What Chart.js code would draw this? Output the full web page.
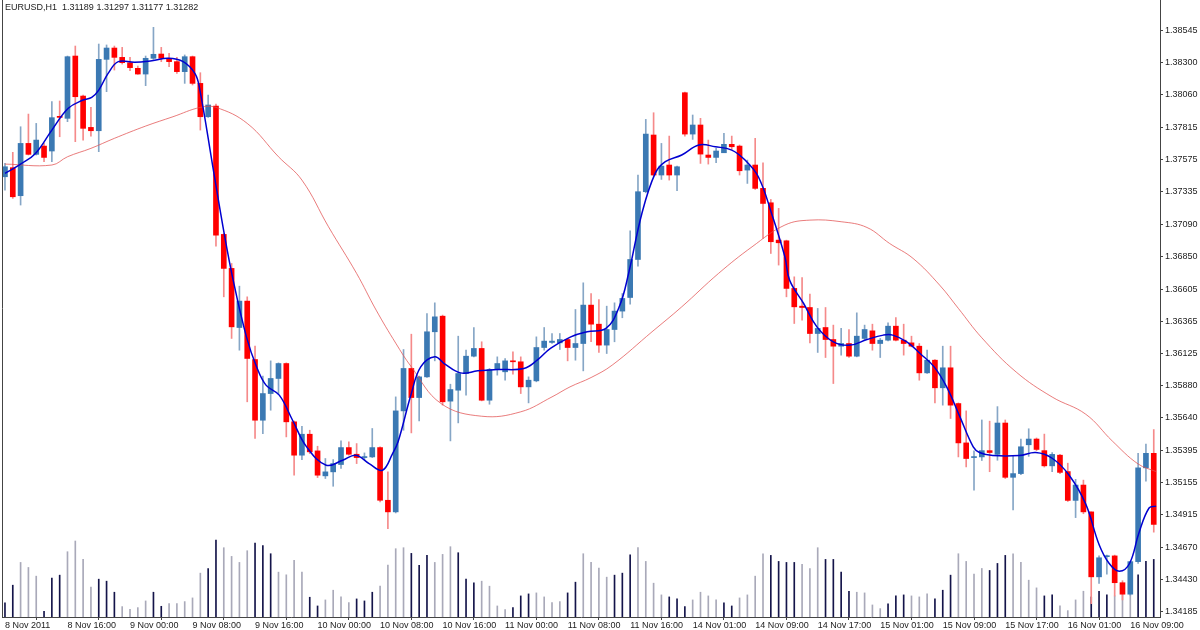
<!DOCTYPE html>
<html>
<head>
<meta charset="utf-8">
<script src="https://cdn.jsdelivr.net/npm/chart.js@4/dist/chart.umd.min.js"></script>
<style>
  html, body { margin: 0; padding: 0; background: #fff; }
  #wrap { width: 1200px; height: 630px; }
</style>
</head>
<body>
<div id="wrap"><canvas id="myChart" width="1200" height="630"></canvas></div>
<script>
// EURUSD H1, 148 bars from 8 Nov 2011 08:00
var timeLabels = ["8 Nov 2011","8 Nov 16:00","9 Nov 00:00","9 Nov 08:00","9 Nov 16:00","10 Nov 00:00","10 Nov 08:00","10 Nov 16:00","11 Nov 00:00","11 Nov 08:00","11 Nov 16:00","14 Nov 01:00","14 Nov 09:00","14 Nov 17:00","15 Nov 01:00","15 Nov 09:00","15 Nov 17:00","16 Nov 01:00","16 Nov 09:00"];

var priceTicks = [1.38790,1.38545,1.38300,1.38060,1.37815,1.37575,1.37335,1.37090,1.36850,1.36605,1.36365,1.36125,1.35880,1.35640,1.35395,1.35155,1.34915,1.34670,1.34430,1.34185];

var opens = [
1.37447,1.37515,1.37305,1.37697,1.37615,1.37677,1.37640,1.37900,1.37885,1.38352,
1.38052,1.37817,1.37792,1.38327,1.38412,1.38342,1.38302,1.38260,1.38217,1.38335,
1.38367,1.38335,1.38310,1.38235,1.38347,1.38147,1.37897,1.37977,1.37015,1.36760,
1.36317,1.36515,1.36077,1.35622,1.35822,1.35935,1.36047,1.35610,1.35360,1.35517,
1.35392,1.35205,1.35235,1.35290,1.35417,1.35367,1.35342,1.35347,1.35417,1.35022,
1.34935,1.35692,1.36010,1.35792,1.35947,1.36285,1.36402,1.35765,1.35847,1.35972,
1.36102,1.36160,1.35772,1.36002,1.35985,1.36067,1.36060,1.35872,1.35917,1.36167,
1.36205,1.36202,1.36227,1.36167,1.36197,1.36485,1.36342,1.36185,1.36302,1.36440,
1.36542,1.36827,1.37335,1.37760,1.37460,1.37535,1.37460,1.38077,1.37767,1.37835,
1.37610,1.37592,1.37627,1.37690,1.37677,1.37497,1.37535,1.37360,1.37252,1.36972,
1.36967,1.36610,1.36477,1.36467,1.36272,1.36317,1.36227,1.36177,1.36197,1.36102,
1.36235,1.36292,1.36197,1.36222,1.36327,1.36222,1.36202,1.36177,1.35977,1.36072,
1.35865,1.36015,1.35747,1.35452,1.35342,1.35347,1.35394,1.35366,1.35601,1.35194,
1.35222,1.35438,1.35481,1.35394,1.35280,1.35360,1.35237,1.35021,1.35136,1.34935,
1.34448,1.34599,1.34605,1.34404,1.34318,1.34562,1.35265,1.35374];

var highs = [
1.37547,1.37630,1.37822,1.37917,1.37847,1.37697,1.38010,1.38015,1.38352,1.38427,
1.38060,1.37967,1.38442,1.38435,1.38427,1.38417,1.38342,1.38277,1.38352,1.38567,
1.38417,1.38372,1.38342,1.38360,1.38352,1.38227,1.38060,1.37992,1.37022,1.36797,
1.36627,1.36547,1.36177,1.35952,1.36067,1.36052,1.36052,1.35615,1.35577,1.35547,
1.35427,1.35335,1.35327,1.35467,1.35460,1.35447,1.35377,1.35560,1.35422,1.35235,
1.35797,1.36152,1.36267,1.35952,1.36422,1.36502,1.36410,1.35892,1.36252,1.36147,
1.36317,1.36210,1.36010,1.36097,1.36085,1.36135,1.36097,1.35947,1.36247,1.36317,
1.36272,1.36272,1.36235,1.36452,1.36652,1.36572,1.36527,1.36477,1.36502,1.36572,
1.37042,1.37460,1.37877,1.37927,1.37697,1.37752,1.37527,1.38082,1.37910,1.37885,
1.37722,1.37660,1.37772,1.37752,1.37685,1.37572,1.37735,1.37552,1.37277,1.37210,
1.36972,1.36697,1.36692,1.36567,1.36460,1.36467,1.36335,1.36310,1.36302,1.36427,
1.36335,1.36342,1.36235,1.36352,1.36392,1.36342,1.36252,1.36197,1.36147,1.36077,
1.36177,1.36177,1.35752,1.35692,1.35392,1.35624,1.35615,1.35724,1.35624,1.35351,
1.35481,1.35558,1.35489,1.35518,1.35380,1.35366,1.35300,1.35179,1.35173,1.34935,
1.34605,1.34611,1.34611,1.34419,1.34565,1.35374,1.35443,1.35552];

var lows = [
1.37347,1.37285,1.37235,1.37610,1.37610,1.37560,1.37560,1.37747,1.37860,1.37710,
1.37722,1.37752,1.37635,1.38085,1.38247,1.38292,1.38242,1.38215,1.38130,1.38327,
1.38310,1.38272,1.38222,1.38147,1.38135,1.37797,1.37892,1.36927,1.36547,1.36235,
1.36147,1.35760,1.35485,1.35522,1.35697,1.35822,1.35497,1.35210,1.35327,1.35372,
1.35192,1.35185,1.35127,1.35260,1.35360,1.35297,1.35327,1.35342,1.35010,1.34810,
1.34927,1.35547,1.35527,1.35617,1.35942,1.36067,1.35735,1.35467,1.35602,1.35810,
1.36097,1.35767,1.35742,1.35960,1.35922,1.35967,1.35822,1.35752,1.35910,1.36147,
1.36197,1.36152,1.36067,1.36072,1.35992,1.36210,1.36130,1.36122,1.36210,1.36390,
1.36492,1.36777,1.37327,1.37452,1.37427,1.37422,1.37342,1.37752,1.37727,1.37547,
1.37542,1.37552,1.37627,1.37652,1.37460,1.37397,1.37352,1.36985,1.36872,1.36785,
1.36547,1.36347,1.36372,1.36202,1.36130,1.36092,1.35897,1.36110,1.36092,1.36097,
1.36227,1.36147,1.36092,1.36217,1.36217,1.36110,1.36172,1.35922,1.35972,1.35752,
1.35735,1.35635,1.35347,1.35272,1.35097,1.35320,1.35236,1.35322,1.35185,1.34950,
1.35214,1.35351,1.35394,1.35271,1.35236,1.35222,1.35013,1.34892,1.34921,1.34247,
1.34399,1.34468,1.34304,1.34275,1.34310,1.34548,1.35165,1.34783];

var closes = [
1.37522,1.37297,1.37697,1.37615,1.37722,1.37592,1.37890,1.37892,1.38347,1.38047,
1.37810,1.37792,1.38327,1.38412,1.38342,1.38302,1.38265,1.38217,1.38335,1.38365,
1.38335,1.38310,1.38235,1.38347,1.38147,1.37897,1.37985,1.37010,1.36760,1.36322,
1.36515,1.36085,1.35622,1.35822,1.35935,1.36047,1.35610,1.35360,1.35517,1.35385,
1.35210,1.35235,1.35297,1.35417,1.35367,1.35342,1.35347,1.35417,1.35022,1.34935,
1.35692,1.36010,1.35792,1.35947,1.36285,1.36397,1.35760,1.35852,1.35972,1.36102,
1.36160,1.35772,1.36002,1.36047,1.36067,1.36060,1.35872,1.35922,1.36167,1.36215,
1.36215,1.36227,1.36167,1.36197,1.36485,1.36342,1.36185,1.36302,1.36440,1.36535,
1.36827,1.37335,1.37767,1.37460,1.37527,1.37460,1.37522,1.37767,1.37835,1.37617,
1.37592,1.37640,1.37690,1.37672,1.37492,1.37535,1.37360,1.37247,1.36960,1.36952,
1.36610,1.36472,1.36467,1.36272,1.36310,1.36227,1.36177,1.36197,1.36102,1.36252,
1.36302,1.36197,1.36222,1.36327,1.36222,1.36197,1.36177,1.35977,1.36072,1.35865,
1.36015,1.35735,1.35452,1.35335,1.35347,1.35394,1.35380,1.35601,1.35194,1.35222,
1.35423,1.35481,1.35403,1.35280,1.35366,1.35231,1.35021,1.35136,1.34935,1.34448,
1.34591,1.34605,1.34404,1.34318,1.34562,1.35265,1.35374,1.34841];

var volumes = [
42,95,163,148,122,17,116,125,195,227,
172,89,113,107,74,31,23,28,48,74,
32,40,40,46,57,131,145,230,207,181,
163,198,221,213,189,134,126,169,134,59,
33,51,80,60,43,54,48,74,92,155,
204,207,190,154,184,163,187,210,192,113,
102,107,92,33,22,28,63,69,72,60,
43,46,72,104,189,163,146,119,125,131,
186,207,166,101,66,60,54,31,51,74,
63,51,42,33,57,66,122,189,184,166,
163,163,157,145,207,172,172,134,77,74,
72,36,25,39,63,66,63,60,69,54,
80,125,189,166,128,145,139,160,184,189,
163,110,87,63,66,33,19,51,77,60,
77,66,63,72,138,126,166,172];

// D = dark volume bar, G = grey volume bar
var volClass = "DDGGGDDDGGGGDDDGGGGDDGGGGGDDGGGGDDDGGGGDDGGGGDDDGGGGDDDGGGDDDGGGGDDDGGGGDDGGGGDDDGGGGDDDGGGGDDGGGGDDDDGGGDDDDGGGGDDDGGGDDDGGGGDDDGGGGDDGGGGDDDGGGDDD";

var fastX = [0,2,3.9,6,8.1,10,11.1,12,13.2,14.5,16.6,18.8,20.9,22.8,24.3,24.9,26.6,27.9,29.2,30.9,32.2,33.4,35.1,36.8,38.6,41.1,43.2,44.9,46.6,48.3,49.6,50.3,52,53.2,55,56.2,58.3,60.5,63,66.4,68.1,69.8,72.4,74.5,76.9,78.6,79.8,81.5,83.2,84.5,86.6,88.8,90.9,93,94.7,96.4,98.1,99.8,100.4,102.2,103.9,106,108.2,110.3,112.4,113.6,115.4,117.1,118.9,120.5,122.2,123.9,124.7,126.4,129.8,131.9,134,136.2,138.3,140,141.3,142.6,143.9,145.1,146.4,147.3];
var fastY = [1.37472,1.37542,1.37622,1.37797,1.37960,1.38022,1.38042,1.38097,1.38222,1.38310,1.38305,1.38317,1.38335,1.38310,1.38222,1.38110,1.37522,1.37072,1.36672,1.36247,1.36022,1.35885,1.35810,1.35622,1.35422,1.35285,1.35322,1.35360,1.35297,1.35247,1.35372,1.35460,1.35822,1.36022,1.36097,1.36047,1.35977,1.35992,1.36002,1.36010,1.36072,1.36160,1.36247,1.36285,1.36310,1.36472,1.36722,1.37172,1.37472,1.37560,1.37610,1.37685,1.37672,1.37647,1.37572,1.37447,1.37172,1.36847,1.36672,1.36497,1.36322,1.36210,1.36185,1.36227,1.36260,1.36260,1.36210,1.36122,1.36022,1.35872,1.35647,1.35422,1.35380,1.35357,1.35357,1.35380,1.35337,1.35208,1.34993,1.34691,1.34548,1.34490,1.34548,1.34777,1.34964,1.34978];

var slowX = [0,6,8,11,14,18,21.5,25,27,31,35,38,41.4,45,47.5,50,52,55.8,61,66,70,72.3,75,77.7,82.8,86.6,91.3,95.6,99.8,103,107,110.3,113.2,116.2,119.6,122,125,129.4,134,138.3,141.7,145,147.3];
var slowY = [1.37542,1.37535,1.37597,1.37660,1.37735,1.37827,1.37897,1.37967,1.37967,1.37847,1.37597,1.37422,1.37072,1.36722,1.36447,1.36200,1.36022,1.35747,1.35652,1.35685,1.35797,1.35872,1.35942,1.36035,1.36285,1.36472,1.36722,1.36922,1.37085,1.37122,1.37110,1.37067,1.36947,1.36835,1.36635,1.36460,1.36240,1.35983,1.35796,1.35667,1.35466,1.35294,1.35237];

var BLUE = '#3b79b3';
var RED = '#ff0000';
var axisFont = { family: 'Liberation Sans', size: 9 };

function isUp(i) { return closes[i] >= opens[i]; }

var frame = {
  id: 'frame',
  afterDraw(chart) {
    const c = chart.ctx, a = chart.chartArea;
    c.save();
    c.strokeStyle = '#444';
    c.lineWidth = 1;
    c.beginPath();
    c.moveTo(a.left + 0.5, 0);
    c.lineTo(a.left + 0.5, a.bottom);
    c.stroke();
    c.fillStyle = '#222';
    c.font = '9px "Liberation Sans"';
    c.textBaseline = 'top';
    c.fillText('EURUSD,H1  1.31189 1.31297 1.31177 1.31282', a.left + 3, 3);
    c.restore();
  }
};

const ctx = document.getElementById('myChart');

new Chart(ctx, {
  type: 'bar',
  data: {
    datasets: [
      {
        label: 'volume',
        yAxisID: 'yv',
        data: volumes.map((v, i) => ({ x: i, y: v })),
        backgroundColor: volumes.map((v, i) => volClass[i] === 'D' ? '#14144a' : '#a9a9b9'),
        barThickness: 1,
        grouped: false,
        order: 5
      },
      {
        label: 'wick',
        yAxisID: 'y',
        data: highs.map((h, i) => ({ x: i, y: [lows[i], h] })),
        backgroundColor: c => isUp(c.dataIndex) ? '#86a6c6' : '#f58a8a',
        barThickness: 1,
        grouped: false,
        order: 4
      },
      {
        label: 'body',
        yAxisID: 'y',
        data: opens.map((o, i) => ({ x: i, y: [o, closes[i]] })),
        backgroundColor: c => isUp(c.dataIndex) ? BLUE : RED,
        barThickness: 5,
        minBarLength: 1,
        grouped: false,
        order: 3
      },
      {
        type: 'line',
        label: 'slow',
        yAxisID: 'y',
        data: slowX.map((x, k) => ({ x: x, y: slowY[k] })),
        borderColor: 'rgba(225,80,80,0.75)',
        borderWidth: 1,
        pointRadius: 0,
        tension: 0.4,
        order: 2
      },
      {
        type: 'line',
        label: 'fast',
        yAxisID: 'y',
        data: fastX.map((x, k) => ({ x: x, y: fastY[k] })),
        borderColor: '#0000d0',
        borderWidth: 1.5,
        pointRadius: 0,
        tension: 0.4,
        order: 1
      }
    ]
  },
  options: {
    responsive: false,
    animation: false,
    layout: { padding: { left: 2, right: 0, top: 0, bottom: 0 } },
    plugins: { legend: { display: false }, tooltip: { enabled: false } },
    scales: {
      x: {
        type: 'linear',
        position: 'bottom',
        min: -0.38,
        max: 147.8,
        offset: false,
        afterBuildTicks: s => { s.ticks = timeLabels.map((t, k) => ({ value: k * 8 })); },
        afterFit: s => { s.height = 13; s.paddingLeft = 0; s.paddingRight = 0; },
        ticks: {
          autoSkip: false,
          maxRotation: 0,
          align: 'start',
          padding: 0,
          color: '#222',
          font: axisFont,
          callback: v => timeLabels[Math.round(v / 8)]
        },
        grid: { drawOnChartArea: false, tickLength: 3, color: '#444' },
        border: { color: '#444' }
      },
      y: {
        type: 'linear',
        position: 'right',
        min: 1.34147,
        max: 1.38772,
        afterBuildTicks: s => { s.ticks = priceTicks.map(v => ({ value: v })); },
        afterFit: s => { s.width = 40; s.paddingTop = 0; s.paddingBottom = 0; },
        ticks: {
          padding: 2,
          color: '#222',
          font: axisFont,
          callback: v => v.toFixed(5)
        },
        grid: { drawOnChartArea: false, tickLength: 3, color: '#444' },
        border: { color: '#444' }
      },
      yv: {
        display: false,
        min: 0,
        max: 1843
      }
    }
  },
  plugins: [frame]
});
</script>
</body>
</html>
